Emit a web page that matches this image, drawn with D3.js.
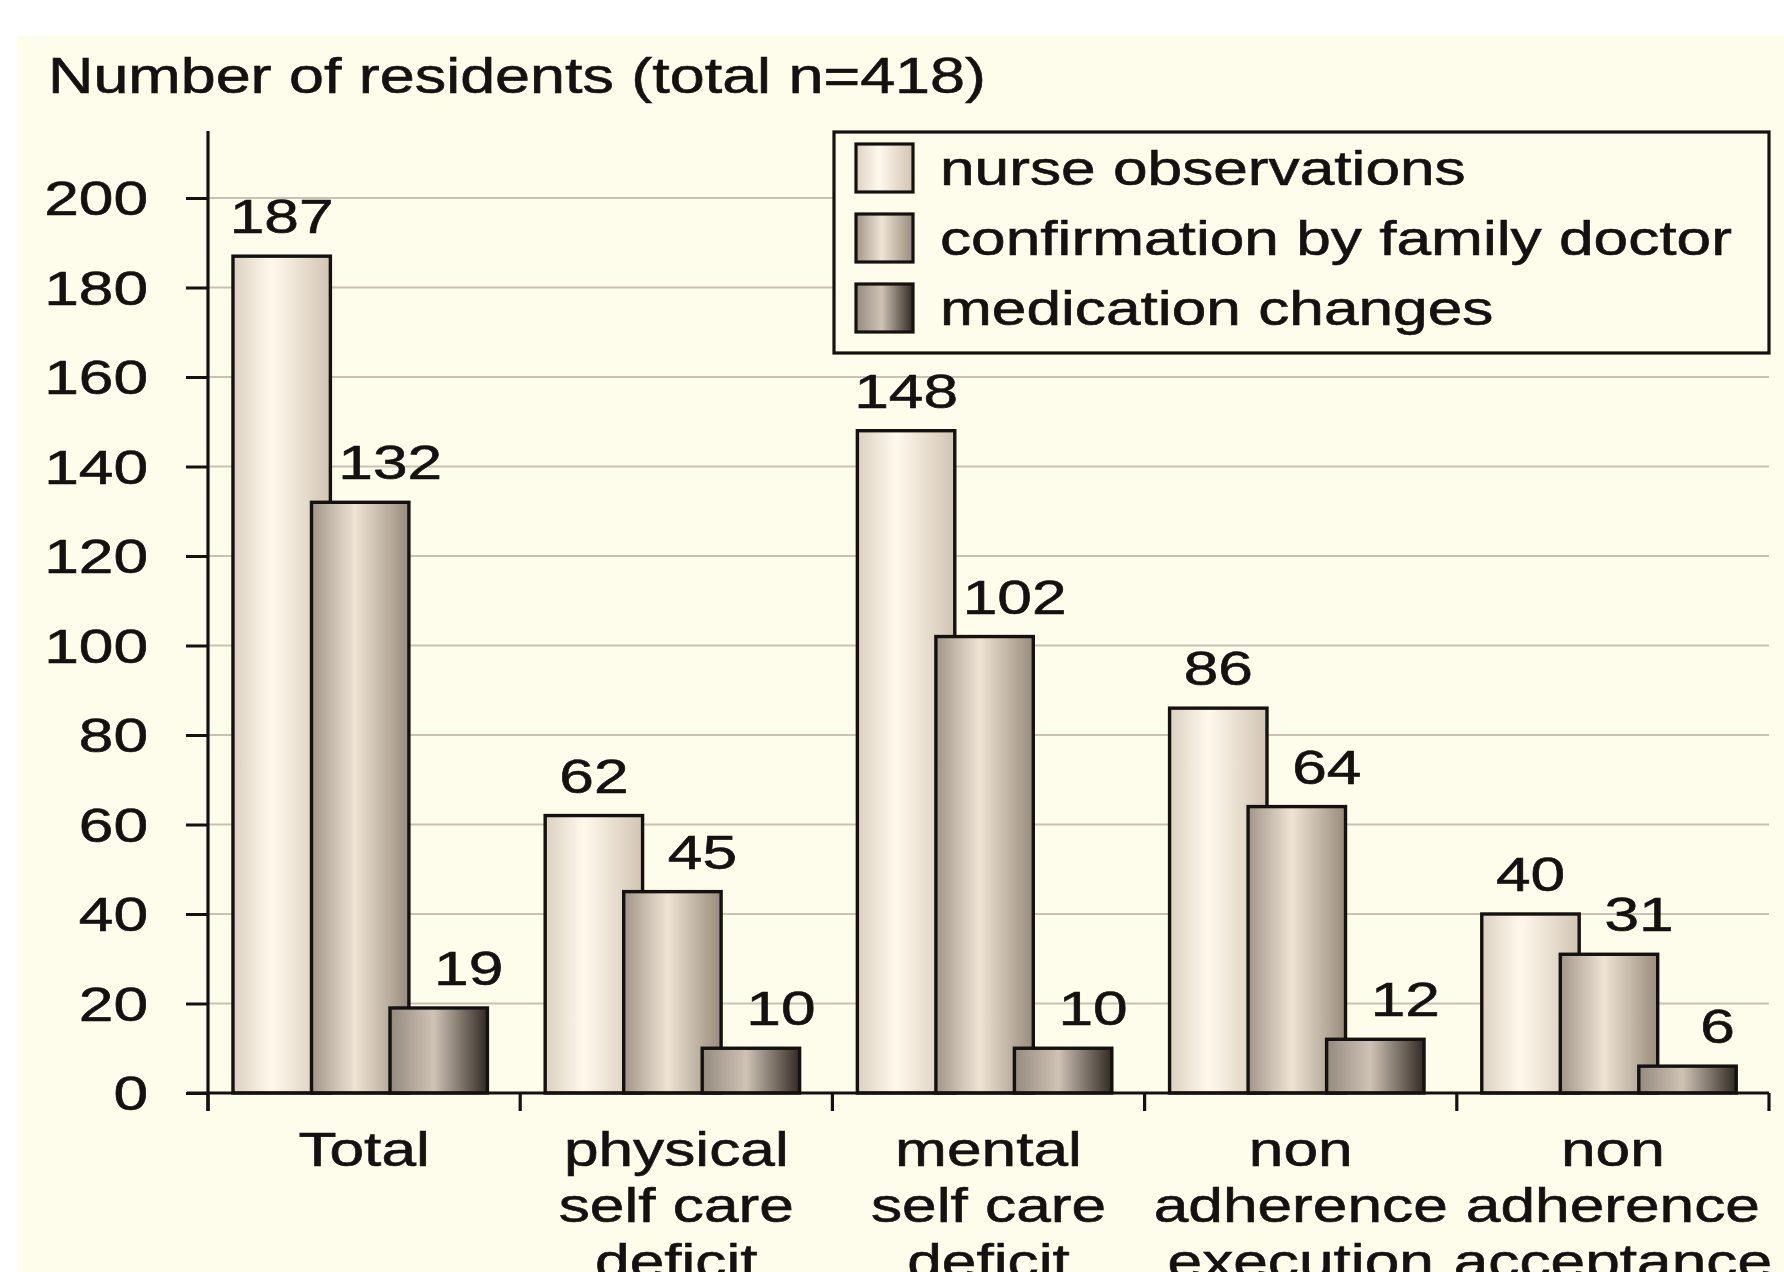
<!DOCTYPE html>
<html><head><meta charset="utf-8">
<script src="https://cdn.jsdelivr.net/npm/d3@7"></script>
<style>html,body{margin:0;padding:0;background:#fff;overflow:hidden} svg{display:block}</style>
</head><body>
<script>
// ---- data ----
const categories = ["Total", "physical self care deficit", "mental self care deficit", "non adherence execution", "non adherence acceptance"];
const categoryLines = [["Total"], ["physical", "self care", "deficit"], ["mental", "self care", "deficit"], ["non", "adherence", "execution"], ["non", "adherence", "acceptance"]];
const seriesNames = ["nurse observations", "confirmation by family doctor", "medication changes"];
const nurseObservations = [187, 62, 148, 86, 40];
const doctorConfirmation = [132, 45, 102, 64, 31];
const medicationChanges = [19, 10, 10, 12, 6];
const yTickValues = [0, 20, 40, 60, 80, 100, 120, 140, 160, 180, 200];
const titleText = "Number of residents (total n=418)";

// ---- layout ----
const W = 1784, H = 1272;
const left = 208, right = 1769, bottom = 1093, top200 = 198, axisTop = 131;
const FS = 49, SX = 1.27;
const font = "'Liberation Sans', Arial, Helvetica, sans-serif";
const ink = "#141110";

const svg = d3.select("body").append("svg").attr("width", W).attr("height", H);
const defs = svg.append("defs");
const grads = [
  [[0, "#dcd1c2"], [0.4, "#fff9ec"], [1, "#d2c4b3"]],
  [[0, "#a09588"], [0.45, "#efe4d4"], [1, "#988b7c"]],
  [[0, "#948a7e"], [0.45, "#cfc3b5"], [1, "#322a24"]]
];
grads.forEach((stops, i) => {
  const g = defs.append("linearGradient").attr("id", "g" + i).attr("x1", 0).attr("x2", 1).attr("y1", 0).attr("y2", 0);
  stops.forEach(s => g.append("stop").attr("offset", s[0]).attr("stop-color", s[1]));
});

// panel
svg.append("rect").attr("x", 17).attr("y", 36).attr("width", W - 17).attr("height", H - 36).attr("fill", "#fefcea");

const y = d3.scaleLinear().domain([0, 200]).range([bottom, top200]);
const x = d3.scaleBand().domain(categories).range([left, right]).padding(0);
const bw = x.bandwidth();
const xs = d3.scaleLinear().domain([0, 2]).range([0.080 * bw, 0.583 * bw]);
const barW = 0.312 * bw;

function txt(g, tx, ty, s, anchor, size) {
  return g.append("text").attr("transform", `translate(${tx},${ty}) scale(${SX},1)`)
    .attr("text-anchor", anchor || "start").attr("font-family", font)
    .attr("font-size", size || FS).attr("fill", ink)
    .attr("stroke", ink).attr("stroke-width", 0.6).text(s);
}

// gridlines
svg.append("g").selectAll("line").data(yTickValues.filter(v => v > 0)).join("line")
  .attr("x1", left).attr("x2", right).attr("y1", d => y(d)).attr("y2", d => y(d))
  .attr("stroke", "#cbc1b2").attr("stroke-width", 2.2);

// title
txt(svg, 48, 93, titleText, "start", 49.5);

// y axis
const yAxis = d3.axisLeft(y).tickValues(yTickValues).tickSize(22).tickFormat(d => d);
const gy = svg.append("g").attr("transform", `translate(${left},0)`).call(yAxis);
gy.select(".domain").remove();
gy.selectAll(".tick line").attr("stroke", ink).attr("stroke-width", 3);
gy.selectAll(".tick text").remove();
yTickValues.forEach(v => txt(svg, 148, y(v) + 17, String(v), "end"));
svg.append("line").attr("x1", left).attr("x2", left).attr("y1", axisTop).attr("y2", bottom + 18)
  .attr("stroke", ink).attr("stroke-width", 3.2);

// bars
const seriesData = [nurseObservations, doctorConfirmation, medicationChanges];
seriesData.forEach((vals, si) => {
  const g = svg.append("g");
  g.selectAll("rect").data(vals).join("rect")
    .attr("x", (d, i) => x(categories[i]) + xs(si))
    .attr("y", d => y(d))
    .attr("width", barW)
    .attr("height", d => bottom - y(d))
    .attr("fill", `url(#g${si})`)
    .attr("stroke", ink).attr("stroke-width", 3.4);
});
// value labels
seriesData.forEach((vals, si) => {
  vals.forEach((v, i) => {
    const cx = x(categories[i]) + xs(si) + barW / 2 + (si > 0 ? 30 : 0);
    txt(svg, cx, y(v) - 23, String(v), "middle");
  });
});

// x axis
svg.append("line").attr("x1", left - 21).attr("x2", right).attr("y1", bottom).attr("y2", bottom)
  .attr("stroke", ink).attr("stroke-width", 3.2);
const bounds = categories.map(c => x(c)).concat([right]);
svg.append("g").selectAll("line").data(bounds).join("line")
  .attr("x1", d => d).attr("x2", d => d).attr("y1", bottom).attr("y2", bottom + 18)
  .attr("stroke", ink).attr("stroke-width", 3.2);
categoryLines.forEach((lines, i) => {
  const cx = x(categories[i]) + bw / 2;
  lines.forEach((ln, j) => txt(svg, cx, 1166 + j * 56, ln, "middle"));
});

// legend
const lg = svg.append("g");
lg.append("rect").attr("x", 834).attr("y", 132).attr("width", 935).attr("height", 221)
  .attr("fill", "#fefcea").attr("stroke", ink).attr("stroke-width", 3.2);
seriesNames.forEach((s, i) => {
  const yy = 144 + i * 70;
  lg.append("rect").attr("x", 856).attr("y", yy).attr("width", 57).attr("height", 48)
    .attr("fill", `url(#g${i})`).attr("stroke", ink).attr("stroke-width", 3.2);
  txt(lg, 940, yy + 41, s, "start");
});
</script>
</body></html>
